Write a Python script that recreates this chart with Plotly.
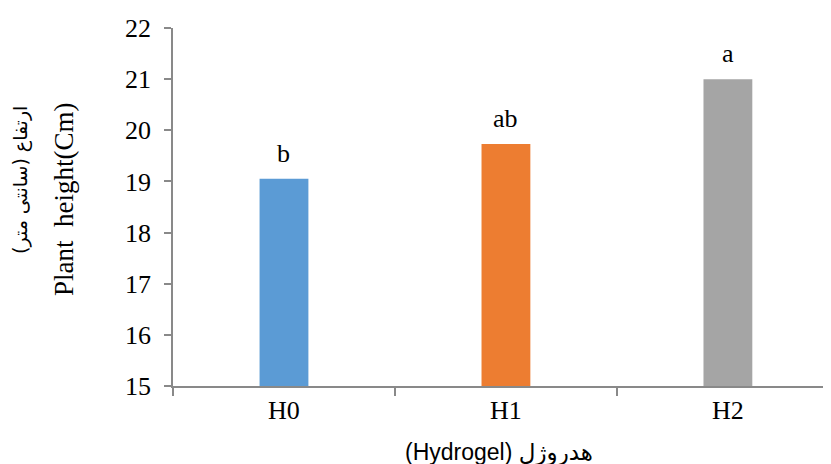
import plotly.graph_objects as go

categories = ["H0", "H1", "H2"]
values = [19.05, 19.73, 21.0]
letters = ["b", "ab", "a"]
colors = ["#5B9BD5", "#ED7D31", "#A5A5A5"]
y_ticks = [15, 16, 17, 18, 19, 20, 21, 22]

serif = "Liberation Serif, Times New Roman, serif"

fig = go.Figure()
fig.add_trace(go.Bar(x=categories, y=values, marker_color=colors, width=0.22,
                     marker_line_width=0, showlegend=False))

for c, v, t in zip(categories, values, letters):
    fig.add_annotation(x=c, y=v, text=t, showarrow=False, yanchor="bottom",
                       yshift=9, font=dict(family=serif, size=26, color="#000"))

fig.add_annotation(x=0.5, y=0, xref="paper", yref="paper", yanchor="middle",
                   xshift=-3, yshift=-66, showarrow=False, text="(Hydrogel) هدروژل",
                   font=dict(family="Liberation Sans, DejaVu Sans, sans-serif", size=23, color="#000"))
fig.add_annotation(x=0, y=0.5, xref="paper", yref="paper", xanchor="center",
                   xshift=-109, yshift=7, textangle=-90, showarrow=False,
                   text="Plant  height(Cm)",
                   font=dict(family=serif, size=27, color="#000"))
fig.add_annotation(x=0, y=0.5, xref="paper", yref="paper", xanchor="center",
                   xshift=-153, yshift=27, textangle=-90, showarrow=False,
                   text="ارتفاع (سانتی متر)\u200f",
                   font=dict(family="DejaVu Sans, sans-serif", size=19, color="#000"))

fig.update_layout(
    width=823, height=456,
    margin=dict(l=165, r=1, t=20, b=78),
    plot_bgcolor="white", paper_bgcolor="white",
    bargap=0.78,
    xaxis=dict(range=[-0.5, 2.46], showline=True, linecolor="#898989", linewidth=2,
               ticks="outside", tickson="boundaries", ticklen=8, tickcolor="#898989",
               tickwidth=1.5, tickfont=dict(family=serif, size=26, color="#000"),
               showgrid=False, zeroline=False, fixedrange=True),
    yaxis=dict(range=[15, 22], tickvals=y_ticks, showline=True, linecolor="#898989",
               linewidth=1.5, ticks="outside", ticklen=7, tickcolor="#898989",
               tickwidth=1.5, ticklabelstandoff=8,
               tickfont=dict(family=serif, size=26, color="#000"),
               showgrid=False, zeroline=False, fixedrange=True),
)

fig.write_html("out.html")
